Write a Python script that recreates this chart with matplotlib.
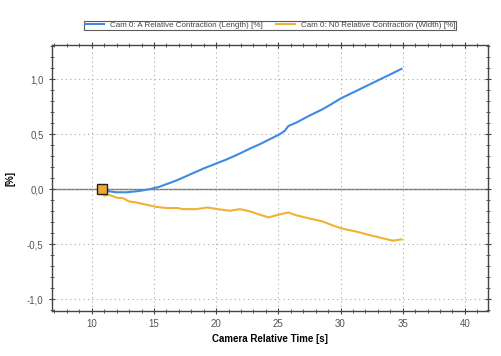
import matplotlib.pyplot as plt
from matplotlib.ticker import MultipleLocator, FuncFormatter

plt.rcParams['font.family'] = ['Liberation Sans', 'DejaVu Sans']

# Cam 0: A relative contraction (length)
timeA = [10.8, 11.0, 11.5, 12.0, 12.8, 13.8, 14.6, 15.4, 16.2, 16.9, 18.0,
         19.0, 20.0, 20.8, 21.8, 22.7, 23.5, 24.3, 25.1, 25.5, 25.8, 26.5,
         27.5, 28.5, 29.2, 30.0, 31.0, 32.0, 33.0, 34.0, 34.9]
lengthA = [0.0, -0.01, -0.02, -0.027, -0.027, -0.015, 0.0, 0.022, 0.055, 0.085, 0.14,
           0.19, 0.235, 0.27, 0.32, 0.37, 0.41, 0.455, 0.50, 0.53, 0.575, 0.61,
           0.67, 0.725, 0.77, 0.825, 0.88, 0.935, 0.99, 1.045, 1.095]

# Cam 0: N0 relative contraction (width)
timeN = [10.8, 11.0, 11.4, 12.0, 12.5, 13.0, 13.6, 14.4, 15.2, 16.0, 16.9,
         17.3, 18.4, 19.3, 20.1, 21.1, 21.9, 22.7, 23.5, 24.2, 25.05, 25.8,
         26.4, 27.5, 28.5, 29.3, 30.06, 31.3, 32.3, 33.4, 34.2, 34.9]
widthN = [0.0, -0.058, -0.05, -0.076, -0.08, -0.11, -0.12, -0.14, -0.16, -0.17, -0.17,
          -0.18, -0.18, -0.165, -0.18, -0.195, -0.18, -0.20, -0.23, -0.255, -0.23, -0.21,
          -0.235, -0.265, -0.29, -0.325, -0.355, -0.385, -0.415, -0.445, -0.467, -0.455]

fig = plt.figure(figsize=(5.02, 3.56), dpi=100)
ax = fig.add_axes([0.1036, 0.1264, 0.8684, 0.7472])

ax.axhline(0, color='#777777', lw=1.0, zorder=1)
ax.plot(timeA, lengthA, color='#3f8ae0', lw=1.5, zorder=3,
        label='Cam 0: A Relative Contraction (Length) [%]')
ax.plot(timeN, widthN, color='#f2b133', lw=1.5, zorder=3,
        label='Cam 0: N0 Relative Contraction (Width) [%]')
ax.plot([timeA[0]], [lengthA[0]], marker='s', ms=7, mfc='#f0a830',
        mec='#222222', mew=1.0, zorder=4)

ax.set_xlim(6.8, 41.85)
ax.set_ylim(-1.106, 1.312)
ax.xaxis.set_major_locator(MultipleLocator(5))
ax.xaxis.set_minor_locator(MultipleLocator(1))
ax.yaxis.set_major_locator(MultipleLocator(0.5))
ax.yaxis.set_minor_locator(MultipleLocator(0.1))
ax.yaxis.set_major_formatter(FuncFormatter(lambda v, p: ('%.1f' % v).replace('.', ',')))

ax.grid(True, which='major', color='#aaaaaa', ls=(0, (1, 3)), lw=0.8)
ax.tick_params(which='both', direction='inout', top=True, right=True,
               labelsize=7, labelcolor='#555555', color='#444444')
ax.tick_params(which='major', length=5)
ax.tick_params(which='minor', length=3)
for s in ax.spines.values():
    s.set_color('#444444')
    s.set_linewidth(1.0)

ax.set_xlabel('Camera Relative Time [s]', fontsize=7, fontweight='bold', labelpad=3)
ax.set_ylabel('[%]', fontsize=7, fontweight='bold', labelpad=8)

leg = ax.legend(loc='lower center', bbox_to_anchor=(0.5, 1.056), ncol=2,
                fontsize=5.8, frameon=True, fancybox=False, borderpad=0.1,
                handlelength=2.4, columnspacing=1.6, borderaxespad=0,
                handletextpad=0.75)
leg.get_frame().set_edgecolor('#333333')
leg.get_frame().set_linewidth(0.8)
for t in leg.get_texts():
    t.set_color('#444444')

fig.savefig('out.png', dpi=100)
